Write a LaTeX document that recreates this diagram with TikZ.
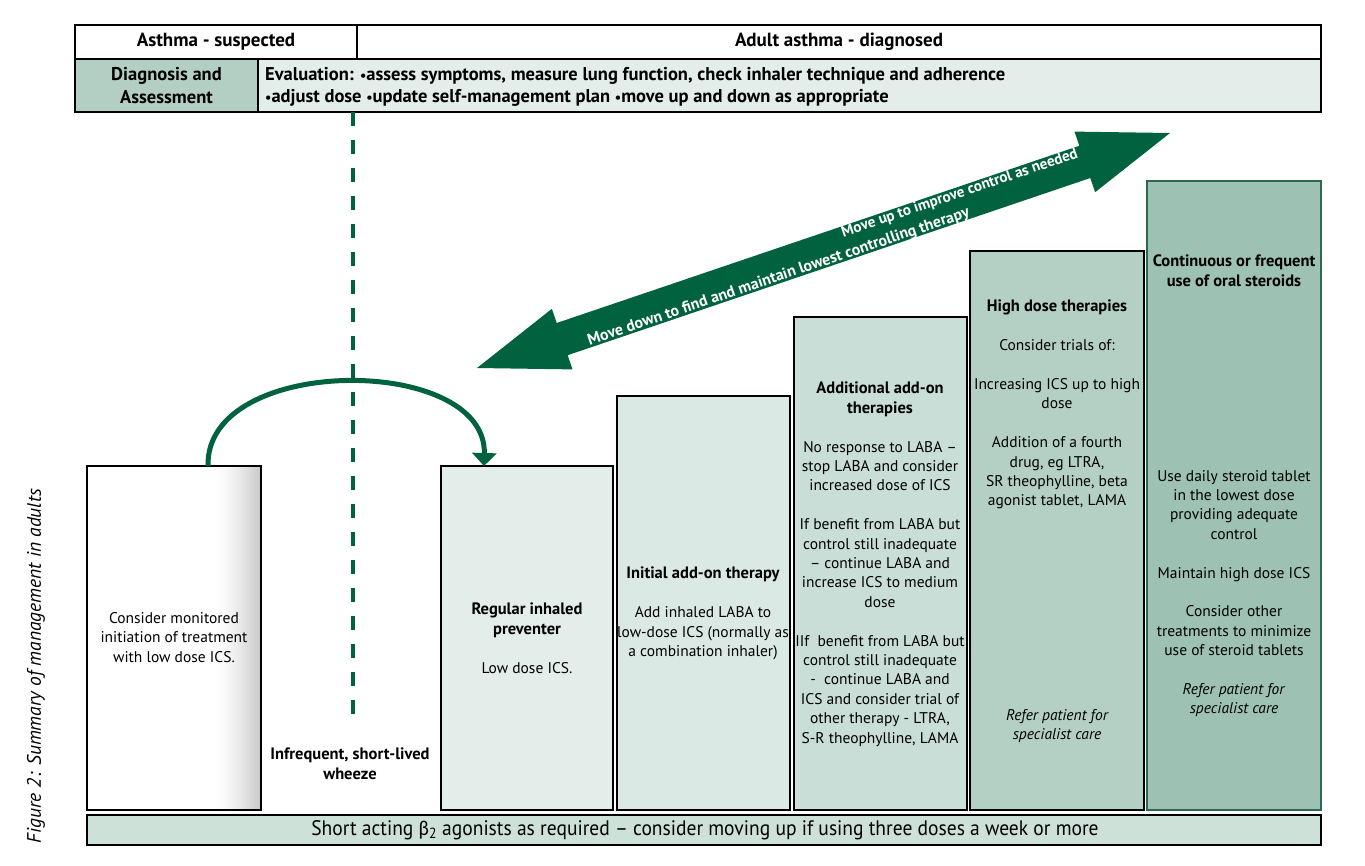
\documentclass[tikz,border=0pt]{standalone}
\usepackage{fontspec}
\setmainfont{PT Sans}
\newfontfamily\grk{Carlito}
\usetikzlibrary{arrows.meta,calc}
\definecolor{dkgreen}{HTML}{00623E}
\definecolor{hdrlight}{HTML}{E3EDE9}
\definecolor{hdrdark}{HTML}{B3CFC4}
\definecolor{ctwo}{HTML}{E3EDE9}
\definecolor{cthree}{HTML}{DBE9E4}
\definecolor{cfour}{HTML}{C9DED6}
\definecolor{cfive}{HTML}{B4D0C5}
\definecolor{csix}{HTML}{9DC1B2}
\definecolor{cbar}{HTML}{CDE1D9}
\definecolor{sixborder}{HTML}{2F6650}
\newcommand{\bul}{{\fontsize{14}{14}\selectfont•}}
\newcommand{\hb}[1]{{\fontsize{16.5}{19.4}\selectfont\bfseries #1}}
\begin{document}
\begin{tikzpicture}[x=1pt,y=-1pt,
  cell/.style={draw=black,line width=1.2pt,inner sep=0,outer sep=0,anchor=north west},
  stepbox/.style={draw=black,line width=1.2pt,inner sep=0,outer sep=0,anchor=south west},
  txt/.style={align=center,inner sep=0,font=\fontsize{15.5}{19.4}\selectfont,anchor=north},
  hdr/.style={font=\fontsize{19}{22}\selectfont\bfseries},
  arrtxt/.style={text=white,inner sep=0,rotate=18.7,font=\fontsize{15.2}{17}\selectfont\bfseries},
  ]
\useasboundingbox (0,0) rectangle (1365,865);
\fill[white] (0,0) rectangle (1365,865);

% header
\node[cell,minimum width=282pt,minimum height=34pt,hdr] (hs) at (75,25) {Asthma - suspected};
\node[cell,minimum width=964pt,minimum height=34pt,hdr] (hd) at (357,25) {Adult asthma - diagnosed};
\node[cell,fill=hdrdark,minimum width=183pt,minimum height=53pt,align=center,font=\fontsize{18.5}{23}\selectfont\bfseries] (hda) at (75,59) {Diagnosis and\\Assessment};
\node[cell,fill=hdrlight,minimum width=1063pt,minimum height=53pt] (hev) at (258,59) {};
\node[anchor=west,align=left,inner sep=0,font=\fontsize{18.5}{22}\selectfont\bfseries] (ev) at (265,87) {Evaluation: \bul assess symptoms, measure lung function, check inhaler technique and adherence\\\bul adjust dose \bul update self-management plan \bul move up and down as appropriate};
\draw[line width=1.6pt] (hs.north west) rectangle (hev.south east);
\draw[line width=1.8pt] (hda.north west) -- (hev.north east);

% dashed divider
\coordinate (dtop) at (353,112);
\coordinate (dbot) at (353,720);
\draw[dkgreen,line width=4pt,dash pattern=on 14pt off 14pt] (dtop) -- (dbot);

% step boxes
\node[stepbox,minimum width=174pt,minimum height=344pt,fill=white] (b1) at (87,810) {};
\foreach \i in {0,...,23} {
  \pgfmathsetmacro{\g}{22*((\i+0.5)/24)^1.6}
  \fill[black!\g] ($(b1.north east)+(-48+2*\i,0)$) rectangle ($(b1.south east)+(-46+2*\i,0)$);
}
\draw[line width=1.2pt] (b1.north west) rectangle (b1.south east);
\node[stepbox,fill=ctwo,minimum width=172pt,minimum height=344pt] (b2) at (441,810) {};
\node[stepbox,fill=cthree,minimum width=173pt,minimum height=414pt] (b3) at (617,810) {};
\node[stepbox,fill=cfour,minimum width=173pt,minimum height=493pt] (b4) at (794,810) {};
\node[stepbox,fill=cfive,minimum width=174pt,minimum height=559pt] (b5) at (970,810) {};
\node[stepbox,fill=csix,draw=sixborder,minimum width=174pt,minimum height=629pt] (b6) at (1147,810) {};
\node[stepbox,fill=cbar,minimum width=1234pt,minimum height=30pt] (bar) at (87,845) {};
\node[inner sep=0,font=\fontsize{21}{22}\selectfont,xscale=0.93] (bartxt) at (705,830) {Short acting {\grk β}\textsubscript{2} agonists as required – consider moving up if using three doses a week or more};

% texts
\node[txt] (t1) at (174,612) {Consider monitored\\initiation of treatment\\with low dose ICS.};
\node[txt] (tw) at (350,748) {\hb{Infrequent, short-lived}\\\hb{wheeze}};
\node[txt] (t2) at (527,603) {\hb{Regular inhaled}\\\hb{preventer}\\[19.4pt]Low dose ICS.};
\node[txt] (t3) at (703,567) {\hb{Initial add-on therapy}\\[19.4pt]Add inhaled LABA to\\low-dose ICS (normally as\\a combination inhaler)};
\node[txt] (t4) at (880,382) {\hb{Additional add-on}\\\hb{therapies}\\[19.4pt]No response to LABA –\\stop LABA and consider\\increased dose of ICS\\[19.4pt]If benefit from LABA but\\control still inadequate\\– continue LABA and\\increase ICS to medium\\dose\\[19.4pt]IIf~ benefit from LABA but\\control still inadequate\\-~ continue LABA and\\ICS and consider trial of\\other therapy - LTRA,\\S-R theophylline, LAMA};
\node[txt] (t5) at (1057,300) {\hb{High dose therapies}\\[19.4pt]Consider trials of:\\[19.4pt]Increasing ICS up to high\\dose\\[19.4pt]Addition of a fourth\\drug, eg LTRA,\\SR theophylline, beta\\agonist tablet, LAMA};
\node[txt,font=\fontsize{15.5}{19.4}\selectfont\itshape] (t5r) at (1057,709) {Refer patient for\\specialist care};
\node[txt] (t6h) at (1234,255) {\hb{Continuous or frequent}\\\hb{use of oral steroids}};
\node[txt] (t6) at (1234,470) {Use daily steroid tablet\\in the lowest dose\\providing adequate\\control\\[19.4pt]Maintain high dose ICS\\[19.4pt]Consider other\\treatments to minimize\\use of steroid tablets\\[19.4pt]\textit{Refer patient for}\\\textit{specialist care}};

% curved arrow
\coordinate (cstart) at ($(b1.north west)+(121,0)$);
\coordinate (cend) at ($(b2.north west)+(43,0)$);
\draw[dkgreen,line width=5pt,-{Triangle[width=24pt,length=13pt]}] (cstart) .. controls ($(cstart)+(-3,-112)$) and ($(cend)+(3,-112)$) .. (cend);

% double arrow
\fill[dkgreen] (477,368) -- (551.9,308.8) -- (556.7,323.0) -- (1079.3,145.8) -- (1074.5,131.6) -- (1170,133)
  -- (1095.1,192.2) -- (1090.3,178.0) -- (567.7,355.2) -- (572.5,369.4) -- cycle;
\node[arrtxt] (aup) at (959.8,193.6) {Move up to improve control as needed};
\node[arrtxt,font=\fontsize{15.9}{17}\selectfont\bfseries] (adown) at (778.6,277.2) {Move down to find and maintain lowest controlling therapy};

% caption
\node[rotate=90,inner sep=0,font=\fontsize{19.5}{20}\selectfont\itshape] (cap) at (36,666) {Figure 2: Summary of management in adults};
\end{tikzpicture}
\end{document}
